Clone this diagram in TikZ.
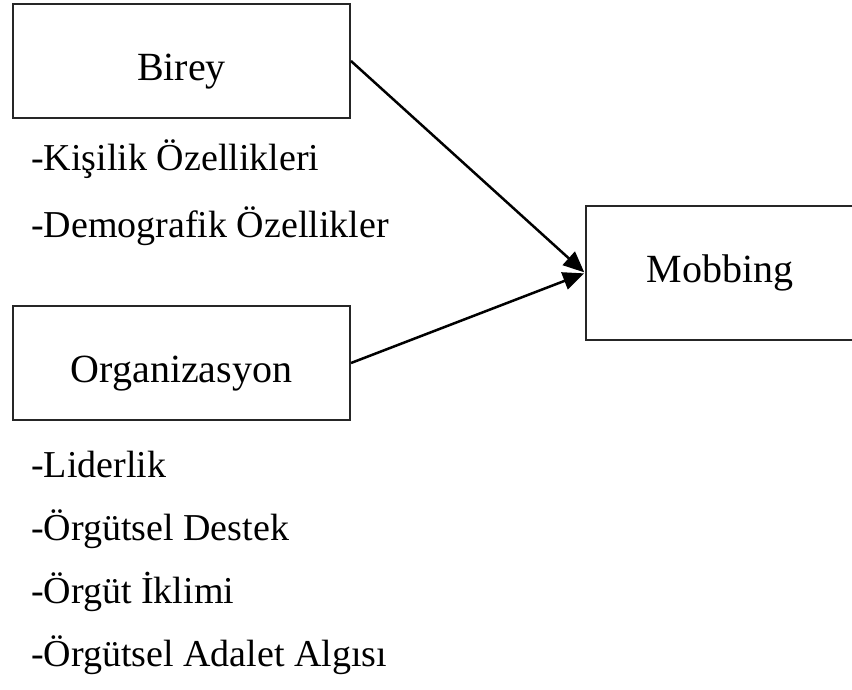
\documentclass[tikz,border=0pt]{standalone}
\usepackage{fontspec}
\setmainfont{Liberation Serif}
\usetikzlibrary{arrows.meta}
\tikzset{
  boxnode/.style={draw=black!85, line width=2pt, rectangle, inner sep=0pt,
    font=\fontsize{40}{48}\selectfont, text=black},
  listitem/.style={anchor=base west, inner sep=0pt, font=\fontsize{38}{46}\selectfont, text=black},
  conn/.style={line width=2.5pt, -{Triangle[length=21pt,width=18pt]}, shorten >=1pt}
}
\begin{document}
\begin{tikzpicture}[x=1pt,y=-1pt]
\useasboundingbox (0,0) rectangle (852,689);
\fill[white] (0,0) rectangle (852,689);
\node[boxnode, minimum width=337pt, minimum height=114pt] (birey) at (181.5,61) {};
\node[anchor=base, inner sep=0pt, font=\fontsize{40}{48}\selectfont] (bireyt) at (181.5,80) {Birey};
\node[boxnode, minimum width=337pt, minimum height=114pt] (org) at (181.5,363) {};
\node[anchor=base, inner sep=0pt, font=\fontsize{40}{48}\selectfont] (orgt) at (181.5,382) {Organizasyon};
\node[boxnode, minimum width=300pt, minimum height=134pt] (mob) at (736,273) {};
\node[anchor=base, inner sep=0pt, font=\fontsize{40}{48}\selectfont] (mobt) at (720,282) {Mobbing};
\node[listitem] (l1) at (31,170) {-Kişilik Özellikleri};
\node[listitem] (l2) at (31,237) {-Demografik Özellikler};
\node[listitem] (l3) at (31,477) {-Liderlik};
\node[listitem] (l4) at (31,540) {-Örgütsel Destek};
\node[listitem] (l5) at (31,603) {-Örgüt İklimi};
\node[listitem] (l6) at (31,666) {-Örgütsel Adalet Algısı};
\draw[conn] (birey.east) -- (mob.west);
\draw[conn] (org.east) -- (mob.west);
\end{tikzpicture}
\end{document}
